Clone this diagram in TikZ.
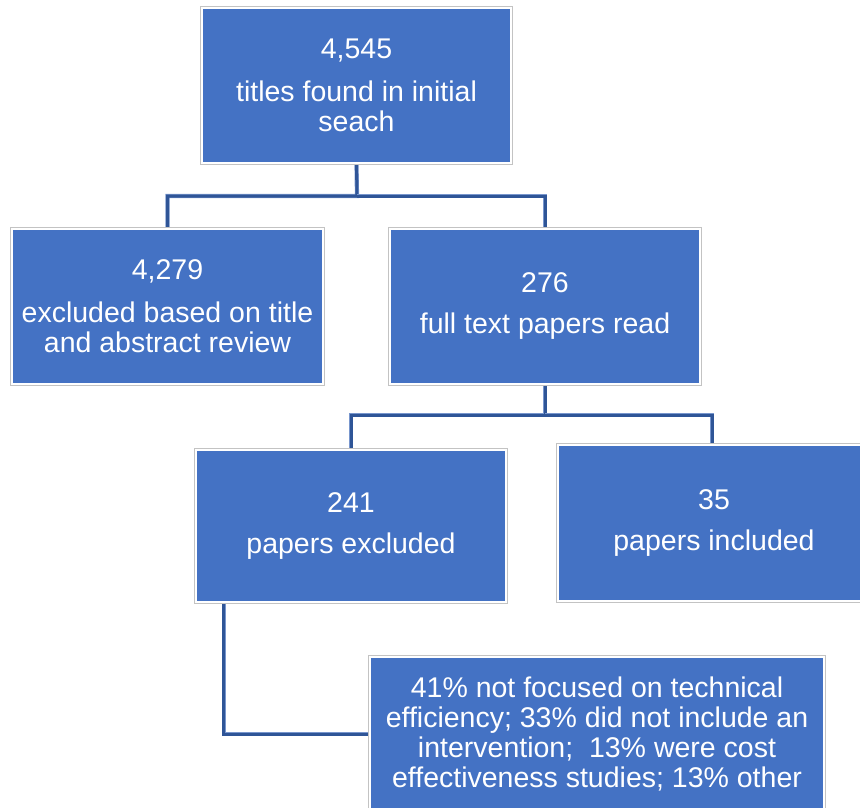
\documentclass[tikz,border=0pt]{standalone}
\usepackage{fontspec}
\setmainfont{Liberation Sans}
\usetikzlibrary{backgrounds}
\definecolor{boxblue}{RGB}{68,114,196}
\definecolor{linkblue}{RGB}{47,85,151}
\definecolor{linkedge}{RGB}{120,150,205}
\definecolor{rim}{RGB}{195,195,195}
\tikzset{
  box/.style={rectangle, fill=boxblue, draw=white, line width=2.5pt,
    preaction={draw=rim, line width=4.5pt},
    inner sep=0pt, align=center, text=white,
    font=\fontsize{28.5}{30}\selectfont},
  link/.style={draw=linkblue, line width=3pt,
    preaction={draw=linkedge, line width=4.2pt}}
}
\begin{document}
\begin{tikzpicture}[x=1pt,y=-1pt]
\useasboundingbox (0,0) rectangle (860,808);
\begin{scope}
\clip (0,0) rectangle (860,808);
\node[box, minimum width=309pt, minimum height=155pt] (b1) at (356.5,85.5)
  {4,545\\[13pt]titles found in initial\\seach};
\node[box, minimum width=311pt, minimum height=155pt] (b2) at (167.5,306.5)
  {4,279\\[13pt]excluded based on title\\and abstract review};
\node[box, minimum width=310pt, minimum height=155pt] (b3) at (545,306.5)
  {276\\[11pt]full text papers read};
\node[box, minimum width=310pt, minimum height=152pt] (b4) at (351,526)
  {241\\[11pt]papers excluded};
\node[box, minimum width=312pt, minimum height=156pt] (b5) at (714,523)
  {35\\[11pt]papers included};
\node[box, minimum width=454pt, minimum height=154pt] (b6) at (597,734)
  {41\% not focused on technical\\efficiency; 33\% did not include an\\intervention;\ \ 13\% were cost\\effectiveness studies; 13\% other};
\end{scope}
\coordinate (j1) at (357,196);
\coordinate (j2) at (545,415);
\coordinate (s4) at ([xshift=29pt]b4.south west);
\begin{scope}[on background layer]
\draw[link] (b1.south) -- (j1) -| (b2.north);
\draw[link] (j1) -| (b3.north);
\draw[link] (b3.south) -- (j2) -| (b4.north);
\draw[link] (j2) -| ([xshift=-2pt]b5.north);
\draw[link] (s4) |- (b6.west);
\end{scope}
\end{tikzpicture}
\end{document}
